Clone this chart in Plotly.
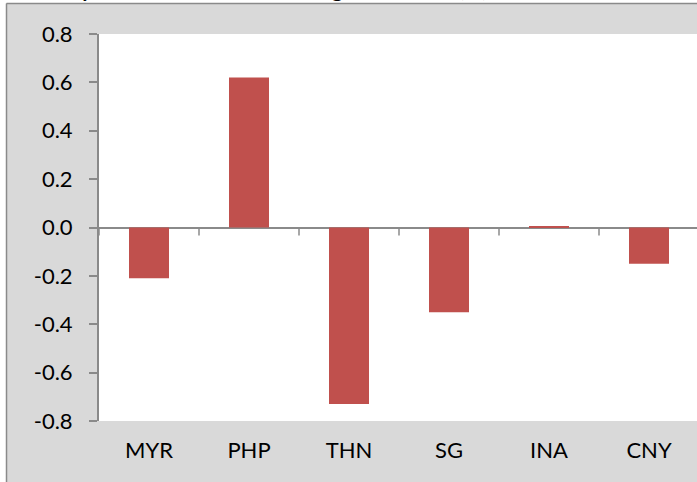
import plotly.graph_objects as go

categories = ["MYR", "PHP", "THN", "SG", "INA", "CNY"]
values = [-0.21, 0.62, -0.73, -0.35, 0.006, -0.15]
y_tickvals = [-0.8, -0.6, -0.4, -0.2, 0.0, 0.2, 0.4, 0.6, 0.8]
y_ticktext = ["-0.8", "-0.6", "-0.4", "-0.2", "0.0", "0.2", "0.4", "0.6", "0.8"]
title_text = "Daily Stock Market Index Change in Returns (%)"

W, H = 697, 482
L, R, T, B = 99, 0, 34, 61
PW, PH = W - L - R, H - T - B


def px(xp):
    return (xp - L) / PW


def py(yp):
    return (H - B - yp) / PH


AX = "#8a8a8a"
FONT = dict(family="Lato", size=22, color="#000000")

fig = go.Figure()
fig.add_trace(go.Bar(x=categories, y=values, marker=dict(color="#c0504d", line=dict(width=0)),
                     hoverinfo="skip"))

# category boundary tick marks hanging below the zero line
boundary_ticks = [
    dict(type="line", xref="x", yref="y", x0=i - 0.5, x1=i - 0.5,
         ysizemode="pixel", yanchor=0, y0=0, y1=-8,
         line=dict(color=AX, width=1.5), layer="above")
    for i in range(len(categories) + 1)
]

frame = [
    dict(type="rect", xref="paper", yref="paper", x0=px(-5), x1=px(6), y0=py(-5), y1=py(H + 5),
         fillcolor="#ffffff", line=dict(width=0), layer="above"),
    dict(type="rect", xref="paper", yref="paper", x0=px(-5), x1=px(W + 5), y0=py(3), y1=py(-5),
         fillcolor="#ffffff", line=dict(width=0), layer="above"),
    dict(type="line", xref="paper", yref="paper", x0=px(6.5), x1=px(W + 5), y0=py(3.5), y1=py(3.5),
         line=dict(color=AX, width=1.5), layer="above"),
    dict(type="line", xref="paper", yref="paper", x0=px(6.5), x1=px(6.5), y0=py(3.5), y1=py(H + 5),
         line=dict(color=AX, width=1.5), layer="above"),
]

fig.update_layout(
    width=W, height=H,
    margin=dict(l=L, r=R, t=T, b=B, pad=0),
    paper_bgcolor="#d9d9d9",
    plot_bgcolor="#ffffff",
    showlegend=False,
    bargap=0.6,
    xaxis=dict(
        type="category", range=[-0.5, 5.48],
        showline=False, ticks="", showgrid=False, zeroline=False,
        tickfont=FONT, ticklabelstandoff=14, fixedrange=True,
    ),
    yaxis=dict(
        range=[-0.8, 0.8], tickmode="array", tickvals=y_tickvals, ticktext=y_ticktext,
        showline=True, linecolor=AX, linewidth=2,
        ticks="outside", ticklen=8, tickwidth=1.5, tickcolor=AX,
        tickfont=FONT, ticklabelstandoff=12, fixedrange=True,
        showgrid=False, zeroline=True, zerolinecolor=AX, zerolinewidth=2,
    ),
    shapes=boundary_ticks + frame,
    annotations=[
        dict(text="<b>" + title_text + "</b>", xref="paper", yref="paper",
             x=px(42), y=py(2.5), xanchor="left", yanchor="bottom", showarrow=False,
             font=dict(family="Lato", size=21, color="#000000")),
    ],
)

fig.write_html("out.html", config={"displayModeBar": False},
               post_script="document.body.style.margin='0px';document.body.style.padding='0px';")
